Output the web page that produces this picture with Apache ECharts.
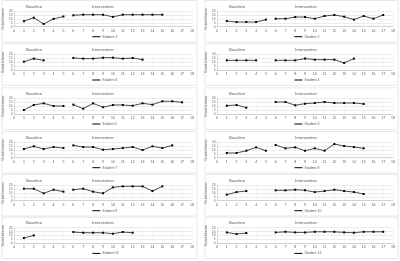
<!DOCTYPE html>
<html>
<head>
<meta charset="utf-8">
<script src="https://cdn.jsdelivr.net/npm/echarts@6/dist/echarts.min.js"></script>
<style>
html, body { margin: 0; padding: 0; background: #fff; }
#chart { width: 400px; height: 261px; }
</style>
</head>
<body>
<div id="chart"></div>
<script>
// sessions on x, on-task score on y
const xTicks = [0, 1, 2, 3, 4, 5, 6, 7, 8, 9, 10, 11, 12, 13, 14, 15, 16, 17, 18];
const yTicks = [0, 5, 10, 15, 20];
const phaseNames = ['Baseline', 'Intervention'];
const studentNames = ['Student 1', 'Student 2', 'Student 3', 'Student 4', 'Student 5', 'Student 6',
    'Student 7', 'Student 8', 'Student 9', 'Student 10', 'Student 11', 'Student 12'];
const interventionStart = 6;

const base1 = [7, 11.5, 3.5, 10, 13];
const int1 = [14.5, 15.3, 15.3, 15.3, 12.5, 15.3, 15.3, 15.3, 15.3, 15.3];
const base2 = [7.2, 6, 6, 6, 9];
const int2 = [10.2, 10.2, 12.3, 12.3, 10.2, 13.6, 14.9, 12.8, 9, 13.6, 10.2, 14.9];
const base3 = [10.6, 14.5, 12.3];
const int3 = [15.3, 14.5, 14.5, 15.7, 15.7, 14.5, 15.3, 13.2];
const base4 = [12.3, 12.3, 12.3, 12.3];
const int4 = [12.3, 12.3, 12.3, 14.5, 13.2, 13.2, 13.2, 9, 14.5];
const base5 = [5.1, 11.5, 13.6, 10.2, 10.2];
const int5 = [11.9, 6.8, 13.6, 8.5, 11.5, 11.5, 10.6, 13.6, 11.9, 16.2, 16.2, 14.9];
const base6 = [10.6, 11.5, 8.1];
const int6 = [15.3, 15.3, 11.1, 13.2, 14, 15.3, 14, 14, 14, 12.8];
const base7 = [11.1, 14.5, 11.1, 13.6, 12.3];
const int7 = [15.7, 13.6, 13.6, 10.2, 11.1, 12.3, 13.6, 9.8, 14.5, 12.3, 15.7];
const base8 = [6, 6, 8.9, 13.2, 8.9];
const int8 = [16.2, 11.9, 13.2, 8.9, 11.9, 8.9, 17.4, 14.9, 13.6, 11.9];
const base9 = [15.3, 15.3, 9.4, 14, 11.5];
const int9 = [14, 15.3, 11.5, 9.4, 17, 18.3, 18.3, 18.3, 12.3, 18.3];
const base10 = [7.7, 11, 12.3];
const int10 = [13.2, 13.2, 14, 13.2, 11, 12.3, 14, 12.3, 11, 8.5];
const base11 = [6.8, 10.2];
const int11 = [14.5, 13.6, 13.6, 13.6, 12.3, 14.5, 13.6];
const base12 = [14, 12, 13.2];
const int12 = [14, 14.8, 14, 14, 14.8, 14.8, 14.8, 14, 13.6, 14.8, 14.8, 14.8];

// panel order: left column odd students, right column even
const baselines = [base1, base2, base3, base4, base5, base6, base7, base8, base9, base10, base11, base12];
const interventions = [int1, int2, int3, int4, int5, int6, int7, int8, int9, int10, int11, int12];

const myChart = echarts.init(document.getElementById('chart'));

const rowTops = [11, 54.3, 98.3, 142, 185, 227.7];
const colLeft = [14, 217];
const colWidth = [178, 176];
const plotH = 15.7;
const textColor = '#595959';

let grids = [], xAxes = [], yAxes = [], series = [], legends = [], graphics = [];

for (let k = 0; k < 12; k++) {
    let row = Math.floor(k / 2), col = k % 2;
    let top = rowTops[row], left = colLeft[col], w = colWidth[col];
    grids.push({ left: left, top: top, width: w, height: plotH, containLabel: false });
    xAxes.push({
        type: 'value', gridIndex: k, min: xTicks[0], max: xTicks[xTicks.length - 1], interval: 1,
        axisLine: { lineStyle: { color: '#bfbfbf', width: 0.6 } },
        axisTick: { show: false },
        axisLabel: { fontSize: 3.5, color: textColor, margin: 2 },
        splitLine: { show: true, lineStyle: { color: '#efefef', width: 0.5 } }
    });
    yAxes.push({
        type: 'value', gridIndex: k, min: yTicks[0], max: yTicks[yTicks.length - 1], interval: 5,
        name: 'On-task behaviour', nameLocation: 'middle', nameRotate: 90, nameGap: 5,
        nameTextStyle: { fontSize: 2.6, color: textColor },
        axisLine: { show: true, lineStyle: { color: '#bfbfbf', width: 0.6 } },
        axisTick: { show: false },
        axisLabel: { fontSize: 3.2, color: textColor, margin: 1.5 },
        splitLine: { show: true, lineStyle: { color: '#d9d9d9', width: 0.5 } }
    });
    let common = {
        name: studentNames[k], type: 'line', xAxisIndex: k, yAxisIndex: k,
        symbol: 'rect', symbolSize: 2, showSymbol: true,
        lineStyle: { color: '#000', width: 0.7 },
        itemStyle: { color: '#000' },
        animation: false
    };
    series.push(Object.assign({}, common, {
        data: baselines[k].map((v, i) => [i + 1, v])
    }));
    series.push(Object.assign({}, common, {
        data: interventions[k].map((v, i) => [i + interventionStart, v])
    }));
    legends.push({
        data: [{ name: studentNames[k], icon: 'rect' }], left: left + w * 0.44, top: top + plotH + 8,
        itemWidth: 8, itemHeight: 1, itemGap: 2, padding: 0,
        itemStyle: { color: '#000' },
        textStyle: { fontSize: 3.5, color: textColor, padding: [0, 0, 0, -3] }
    });
    // panel frame
    graphics.push({
        type: 'rect', shape: { x: left - 12, y: top - 10.5, width: w + 17, height: 41.5 },
        style: { fill: 'none', stroke: '#d9d9d9', lineWidth: 0.6 }, silent: true
    });
    // phase titles
    graphics.push({
        type: 'text', x: left + 20, y: top - 4.5,
        style: { text: phaseNames[0], fontSize: 4.2, fill: textColor, align: 'center', verticalAlign: 'middle' }
    });
    graphics.push({
        type: 'text', x: left + 89, y: top - 4.5,
        style: { text: phaseNames[1], fontSize: 4.2, fill: textColor, align: 'center', verticalAlign: 'middle' }
    });
}

myChart.setOption({
    backgroundColor: '#fff',
    animation: false,
    grid: grids,
    xAxis: xAxes,
    yAxis: yAxes,
    legend: legends,
    graphic: graphics,
    series: series
});
</script>
</body>
</html>
